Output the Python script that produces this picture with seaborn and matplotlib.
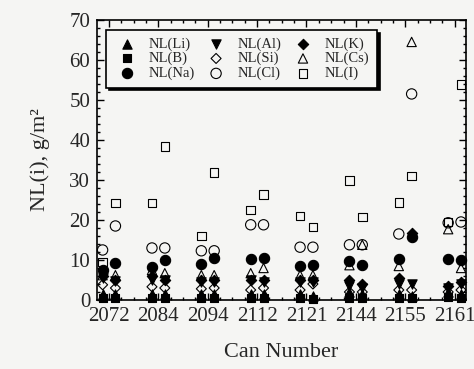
import pandas as pd
import matplotlib.pyplot as plt
import seaborn as sns
from matplotlib.ticker import MultipleLocator

# ================== DATA ==================
cans = ['2072', '2084', '2094', '2112', '2121', '2144', '2155', '2161']

# two samples per can: "a" = left point, "b" = right point
nl_li_a = [1.5, 1.5, 1.5, 1.5, 1.5, 2.0, 1.5, 2.0]
nl_li_b = [1.5, 1.5, 1.5, 1.5, 1.0, 1.5, 1.0, 1.5]
nl_b_a = [0.5, 0.5, 0.5, 0.5, 0.5, 0.5, 0.5, 0.8]
nl_b_b = [0.5, 0.5, 0.5, 0.5, 0.3, 0.5, 0.5, 0.5]
nl_na_a = [7.5, 8.3, 9.0, 10.2, 8.5, 9.8, 10.2, 10.2]
nl_na_b = [9.2, 10.0, 10.5, 10.5, 8.8, 8.8, 15.7, 10.0]
nl_al_a = [5.5, 5.0, 4.5, 5.0, 4.5, 3.5, 4.0, 3.0]
nl_al_b = [4.8, 5.0, 4.5, 4.5, 4.5, 3.0, 4.0, 4.0]
nl_si_a = [3.8, 3.3, 2.8, 2.5, 2.5, 2.0, 2.5, 2.0]
nl_si_b = [3.0, 3.0, 3.0, 3.0, 4.0, 2.0, 2.5, 2.5]
nl_cl_a = [12.5, 13.0, 12.3, 18.8, 13.2, 13.8, 16.5, 19.3]
nl_cl_b = [18.5, 13.0, 12.3, 18.8, 13.2, 13.8, 51.5, 19.5]
nl_k_a = [6.0, 6.0, 5.0, 5.0, 5.0, 5.0, 5.5, 3.5]
nl_k_b = [5.0, 5.0, 5.0, 5.0, 5.0, 4.0, 16.8, 4.5]
nl_cs_a = [6.2, 7.5, 6.2, 6.7, 6.2, 8.7, 8.5, 17.7]
nl_cs_b = [6.2, 6.7, 6.2, 8.0, 6.2, 13.8, 64.5, 8.0]
nl_i_a = [9.5, 24.2, 16.0, 22.5, 21.0, 29.8, 24.4, 19.5]
nl_i_b = [24.2, 38.3, 31.8, 26.3, 18.2, 20.7, 31.0, 53.8]

series = [
    ('NL(Li)', nl_li_a, nl_li_b),
    ('NL(B)', nl_b_a, nl_b_b),
    ('NL(Na)', nl_na_a, nl_na_b),
    ('NL(Al)', nl_al_a, nl_al_b),
    ('NL(Si)', nl_si_a, nl_si_b),
    ('NL(Cl)', nl_cl_a, nl_cl_b),
    ('NL(K)', nl_k_a, nl_k_b),
    ('NL(Cs)', nl_cs_a, nl_cs_b),
    ('NL(I)', nl_i_a, nl_i_b),
]

# marker, filled?, size
styles = {
    'NL(Li)': ('^', True, 45),
    'NL(B)': ('s', True, 32),
    'NL(Na)': ('o', True, 55),
    'NL(Al)': ('v', True, 45),
    'NL(Si)': ('D', False, 26),
    'NL(Cl)': ('o', False, 55),
    'NL(K)': ('D', True, 28),
    'NL(Cs)': ('^', False, 45),
    'NL(I)': ('s', False, 38),
}

rows = []
for name, a_vals, b_vals in series:
    for i, can in enumerate(cans):
        rows.append({'element': name, 'pos': i - 0.13, 'value': a_vals[i]})
        rows.append({'element': name, 'pos': i + 0.13, 'value': b_vals[i]})
df = pd.DataFrame(rows)

# ====================== PLOT ======================
sns.set_theme(style='ticks')
plt.rcParams['font.family'] = ['Liberation Serif', 'DejaVu Serif']
bg = '#f5f5f3'

fig = plt.figure(figsize=(4.74, 3.69), dpi=100, facecolor=bg)
ax = fig.add_axes([0.205, 0.187, 0.778, 0.759])
ax.set_facecolor(bg)

for name, _, _ in series:
    marker, filled, size = styles[name]
    sub = df[df['element'] == name]
    sns.scatterplot(data=sub, x='pos', y='value', marker=marker, s=size,
                    color='black', edgecolor='black', linewidth=0.8,
                    label=name, ax=ax, zorder=3, clip_on=False)
    if not filled:
        ax.collections[-1].set_facecolor('none')

ax.set_xlim(-0.24, 7.23)
ax.set_ylim(0, 70)
ax.set_xticks(range(len(cans)))
ax.set_xticklabels(cans)
ax.xaxis.set_minor_locator(MultipleLocator(0.25))
ax.yaxis.set_major_locator(MultipleLocator(10))
ax.yaxis.set_minor_locator(MultipleLocator(2))
ax.tick_params(which='both', direction='in', top=True, right=True,
               color='black', width=1.0, labelsize=15, pad=5)
ax.tick_params(which='major', length=5)
ax.tick_params(which='minor', length=2.5)
for sp in ax.spines.values():
    sp.set_color('black')
    sp.set_linewidth(1.2)

ax.set_xlabel('Can Number', fontsize=16, labelpad=12)
ax.set_ylabel('NL(i), g/m²', fontsize=16, labelpad=14)

leg = ax.legend(ncol=3, loc='upper left', bbox_to_anchor=(0.025, 0.965),
                borderaxespad=0, fontsize=10.5, frameon=True, fancybox=False,
                edgecolor='black', facecolor=bg, framealpha=1,
                shadow={'color': 'black', 'alpha': 1, 'ox': 2, 'oy': -2},
                labelspacing=0.1, handletextpad=0.6, columnspacing=0.55,
                borderpad=0.5, handlelength=1.8)
leg.get_frame().set_linewidth(1.2)

plt.savefig('out.png', dpi=100, facecolor=bg)
plt.close()
